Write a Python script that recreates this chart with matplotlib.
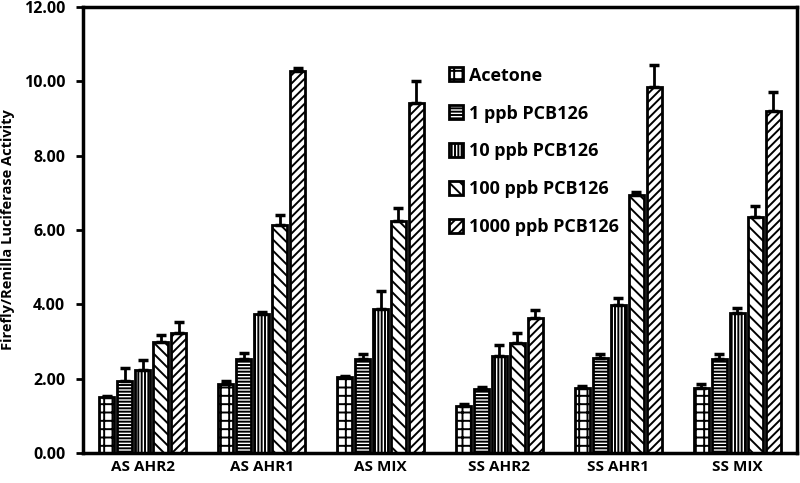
import matplotlib
matplotlib.use("Agg")
import matplotlib.pyplot as plt
import numpy as np

# groups on the x axis
groups = ["AS AHR2", "AS AHR1", "AS MIX", "SS AHR2", "SS AHR1", "SS MIX"]
treatments = ["Acetone", "1 ppb PCB126", "10 ppb PCB126", "100 ppb PCB126", "1000 ppb PCB126"]

# mean values, one list per treatment
acetone = [1.50, 1.86, 2.04, 1.27, 1.75, 1.76]
ppb1 = [1.95, 2.54, 2.53, 1.71, 2.55, 2.53]
ppb10 = [2.24, 3.73, 3.87, 2.62, 3.98, 3.76]
ppb100 = [2.98, 6.12, 6.24, 2.95, 6.94, 6.36]
ppb1000 = [3.24, 10.28, 9.41, 3.63, 9.83, 9.21]

# upper error bars
err_acetone = [0.04, 0.07, 0.04, 0.06, 0.05, 0.09]
err_ppb1 = [0.35, 0.14, 0.14, 0.07, 0.12, 0.14]
err_ppb10 = [0.27, 0.05, 0.50, 0.28, 0.19, 0.14]
err_ppb100 = [0.19, 0.29, 0.35, 0.28, 0.08, 0.27]
err_ppb1000 = [0.29, 0.06, 0.59, 0.21, 0.60, 0.50]

means = [acetone, ppb1, ppb10, ppb100, ppb1000]
errs = [err_acetone, err_ppb1, err_ppb10, err_ppb100, err_ppb1000]
hatches = ["++", "-----", "|||||", "\\\\\\", "////"]

plt.rcParams['font.family'] = ['Open Sans', 'DejaVu Sans']
plt.rcParams['font.weight'] = 'bold'
plt.rcParams['hatch.linewidth'] = 1.4

fig = plt.figure(figsize=(8, 4.83), dpi=100)
ax = fig.add_axes([0.104, 0.062, 0.892, 0.924])

x = np.arange(len(groups))
step = 0.151
width = 0.13

for i in range(len(treatments)):
    pos = x + (i - 2) * step
    ax.bar(pos, means[i], width, color='white', edgecolor='black', linewidth=2,
           hatch=hatches[i], label=treatments[i], zorder=2)
    ax.errorbar(pos, means[i], yerr=[np.zeros(len(groups)), errs[i]], fmt='none',
                ecolor='black', elinewidth=2, capsize=3.5, capthick=2.5, zorder=3)

ax.set_xlim(-0.5, len(groups) - 0.5)
ax.set_ylim(0, 12)
ax.set_yticks(np.arange(0, 12.1, 2))
ax.set_yticklabels([f"{v:.2f}" for v in np.arange(0, 12.1, 2)], fontsize=11.5, fontweight='bold')
ax.set_xticks(x)
ax.set_xticklabels(groups, fontsize=11, fontweight='bold')
ax.tick_params(axis='x', length=0, pad=5)
ax.tick_params(axis='y', length=5, width=2, direction='out', pad=8)
ax.set_ylabel("Firefly/Renilla Luciferase Activity", fontsize=10.5, fontweight='bold', labelpad=6)

for s in ax.spines.values():
    s.set_linewidth(2.5)

leg = ax.legend(loc='upper left', bbox_to_anchor=(0.50, 0.886), frameon=False,
                prop={'size': 13, 'weight': 'bold'}, labelspacing=1.1,
                handlelength=0.8, handleheight=0.8, handletextpad=0.3,
                borderpad=0)

plt.savefig("out.png", dpi=100)
